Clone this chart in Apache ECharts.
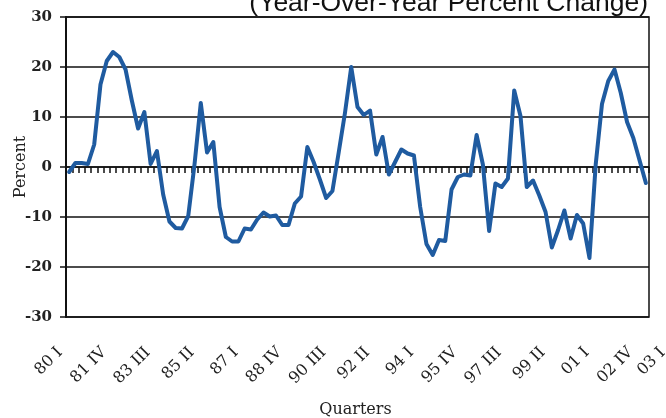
<!DOCTYPE html>
<html>
<head>
<meta charset="utf-8">
<script src="https://cdn.jsdelivr.net/npm/echarts@6/dist/echarts.min.js"></script>
<style>html,body{margin:0;padding:0;background:#fff}#c{width:666px;height:418px}</style>
</head>
<body>
<div id="c"></div>
<script>
// ---- data ----
const startYear = 1980;
const quarterNumerals = ['I', 'II', 'III', 'IV'];
const quarterCount = 93; // 80 I .. 03 I
const tickLabels = ['80 I', '81 IV', '83 III', '85 II', '87 I', '88 IV', '90 III', '92 II',
  '94 I', '95 IV', '97 III', '99 II', '01 I', '02 IV', '03 I'];
const yTicks = [-30, -20, -10, 0, 10, 20, 30];
const values = [
  -1.0, 0.8, 0.8, 0.6, 4.5, 16.5, 21.2, 23.0, 22.0, 19.5,
  13.3, 7.7, 11.0, 0.6, 3.2, -5.5, -10.9, -12.2, -12.3, -9.8,
  0.5, 12.8, 2.9, 5.0, -8.0, -14.0, -14.9, -14.9, -12.3, -12.5,
  -10.5, -9.1, -9.9, -9.7, -11.6, -11.6, -7.3, -5.9, 4.0, 1.0,
  -2.5, -6.2, -4.8, 2.9, 10.8, 20.0, 12.0, 10.4, 11.3, 2.5,
  6.0, -1.5, 1.0, 3.5, 2.7, 2.3, -8.0, -15.4, -17.6, -14.6,
  -14.8, -4.5, -2.0, -1.5, -1.7, 6.4, 0.5, -12.8, -3.3, -4.0,
  -2.3, 15.3, 10.2, -4.0, -2.7, -5.7, -9.0, -16.1, -12.6, -8.7,
  -14.3, -9.6, -11.3, -18.2, 0.5, 12.6, 17.2, 19.5, 14.8, 9.0,
  5.8, 1.3, -3.2
];
const titleText = '(Year-Over-Year Percent Change)';
const yName = 'Percent';
const xName = 'Quarters';

// category names built from year / quarter lists
const quarters = [];
for (let k = 0; k < quarterCount; k++) {
  const y = (startYear + Math.floor(k / 4)) % 100;
  quarters.push(String(y).padStart(2, '0') + ' ' + quarterNumerals[k % 4]);
}
const lastLabel = tickLabels[tickLabels.length - 1];

const serif = 'DejaVu Serif';
const chart = echarts.init(document.getElementById('c'), null, {renderer: 'canvas'});
chart.setOption({
  animation: false,
  backgroundColor: '#fff',
  graphic: [{
    type: 'text', x: 648, y: 3.5, z: 10,
    style: {text: titleText, align: 'right', verticalAlign: 'middle',
      fontFamily: 'Liberation Sans', fontSize: 26.5, fill: '#111'}
  }],
  grid: [
    {left: 66, top: 17, right: 17, bottom: 101, show: true, borderColor: '#111', borderWidth: 1.5,
     backgroundColor: 'transparent', outerBoundsMode: 'none', containLabel: false},
    {left: 57, top: 17, right: 26, bottom: 101, show: false, outerBoundsMode: 'none', containLabel: false}
  ],
  xAxis: [
    {type: 'category', gridIndex: 0, data: quarters, boundaryGap: true,
     axisLine: {show: true, onZero: true, lineStyle: {color: '#111', width: 1.5}},
     axisTick: {show: true, interval: 0, length: 6, lineStyle: {color: '#111', width: 1.5}},
     axisLabel: {show: false}, splitLine: {show: false}},
    {type: 'category', gridIndex: 1, data: quarters, boundaryGap: true, position: 'bottom',
     axisLine: {show: false, onZero: false}, axisTick: {show: false}, splitLine: {show: false},
     name: xName, nameLocation: 'middle', nameGap: 85,
     nameTextStyle: {fontFamily: serif, fontSize: 16, color: '#222', padding: [0, 0, 0, 14]},
     axisLabel: {
       show: true, rotate: 45, margin: 33,
       interval: function (idx, val) { return tickLabels.indexOf(val) >= 0; },
       formatter: function (val) { return val === lastLabel ? '{s|' + val + '}' : val; },
       fontFamily: serif, fontSize: 16, color: '#222',
       rich: {s: {fontFamily: serif, fontSize: 16, color: '#222', padding: [37, -18, 0, 0]}}
     }}
  ],
  yAxis: [
    {type: 'value', gridIndex: 0, min: -30, max: 30, interval: 10,
     name: yName, nameLocation: 'middle', nameGap: 37, nameRotate: 90, nameMoveOverlap: false,
     nameTextStyle: {fontFamily: serif, fontSize: 16, color: '#222'},
     axisLine: {show: true, lineStyle: {color: '#111', width: 2}},
     axisTick: {show: true, length: 6, lineStyle: {color: '#111', width: 1.5}},
     axisLabel: {show: true, margin: 14, fontFamily: serif, fontWeight: 'bold', fontSize: 15, color: '#222',
       customValues: yTicks},
     splitLine: {show: true, lineStyle: {color: '#111', width: 1.5}}},
    {type: 'value', gridIndex: 1, min: -30, max: 30, show: false}
  ],
  series: [{
    type: 'line', xAxisIndex: 0, yAxisIndex: 0, data: values,
    showSymbol: false, symbol: 'none', smooth: false,
    lineStyle: {color: '#1f5ba0', width: 4, join: 'round', cap: 'round'},
    z: 5
  }]
});
</script>
</body>
</html>
